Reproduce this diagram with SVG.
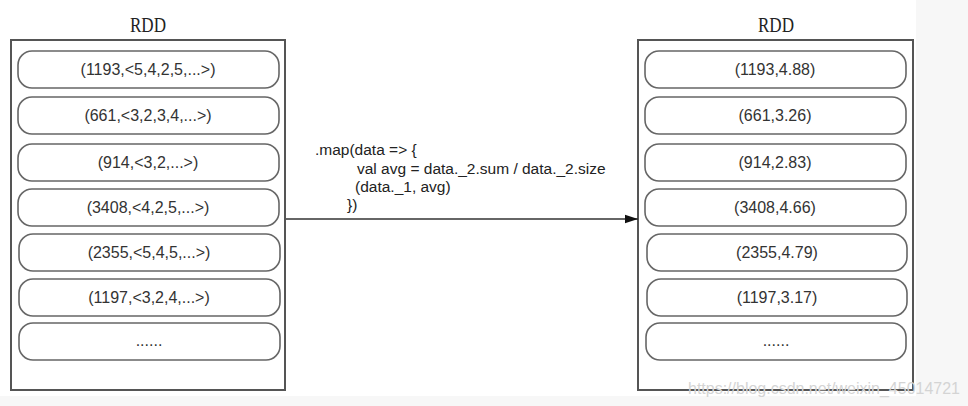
<svg xmlns="http://www.w3.org/2000/svg" width="968" height="406" viewBox="0 0 968 406">
<defs>
<style>
.box{fill:#fff;stroke:#555;stroke-width:2}
.pill{fill:#fff;stroke:#666;stroke-width:1.6}
.t{font-family:"Liberation Sans",Arial,sans-serif;font-size:16px;fill:#333;text-anchor:middle}
.title{font-family:"Liberation Serif","Times New Roman",serif;font-size:22px;fill:#222;text-anchor:middle}
.code{font-family:"Liberation Sans",Arial,sans-serif;font-size:15.5px;fill:#222}
.wm{font-family:"Liberation Sans",Arial,sans-serif;font-size:16px;fill:#d4d4d4}
</style>
<marker id="ah" markerWidth="14" markerHeight="10" refX="13" refY="5" orient="auto" markerUnits="userSpaceOnUse">
<path d="M0,0.8 L13,5 L0,9.2 Z" fill="#111"/>
</marker>
</defs>
<rect x="0" y="0" width="968" height="406" fill="#f7f7f7"/>
<rect x="0" y="0" width="916" height="396" fill="#fff"/>

<g id="left-rdd">
<text class="title" x="148" y="32" textLength="36" lengthAdjust="spacingAndGlyphs">RDD</text>
<rect class="box" x="11" y="40" width="274" height="350"/>
<g id="l1"><rect class="pill" x="18" y="51" width="261" height="37" rx="14"/><text class="t" x="148" y="75">(1193,&lt;5,4,2,5,...&gt;)</text></g>
<g id="l2"><rect class="pill" x="18" y="97" width="261" height="37" rx="14"/><text class="t" x="148" y="121">(661,&lt;3,2,3,4,...&gt;)</text></g>
<g id="l3"><rect class="pill" x="18" y="144" width="261" height="37" rx="14"/><text class="t" x="148" y="168">(914,&lt;3,2,...&gt;)</text></g>
<g id="l4"><rect class="pill" x="18" y="189" width="261" height="37" rx="14"/><text class="t" x="148" y="213">(3408,&lt;4,2,5,...&gt;)</text></g>
<g id="l5"><rect class="pill" x="19" y="234" width="261" height="37" rx="14"/><text class="t" x="149" y="258">(2355,&lt;5,4,5,...&gt;)</text></g>
<g id="l6"><rect class="pill" x="19" y="279" width="261" height="37" rx="14"/><text class="t" x="149" y="303">(1197,&lt;3,2,4,...&gt;)</text></g>
<g id="l7"><rect class="pill" x="19" y="323" width="261" height="37" rx="14"/><text class="t" x="149" y="346">......</text></g>
</g>

<g id="right-rdd">
<text class="title" x="776" y="32" textLength="36" lengthAdjust="spacingAndGlyphs">RDD</text>
<rect class="box" x="638" y="40" width="275" height="350"/>
<g id="r1"><rect class="pill" x="645" y="51" width="261" height="37" rx="14"/><text class="t" x="775" y="75">(1193,4.88)</text></g>
<g id="r2"><rect class="pill" x="645" y="97" width="261" height="37" rx="14"/><text class="t" x="775" y="121">(661,3.26)</text></g>
<g id="r3"><rect class="pill" x="645" y="144" width="261" height="37" rx="14"/><text class="t" x="775" y="168">(914,2.83)</text></g>
<g id="r4"><rect class="pill" x="645" y="189" width="261" height="37" rx="14"/><text class="t" x="775" y="213">(3408,4.66)</text></g>
<g id="r5"><rect class="pill" x="647" y="234" width="260" height="37" rx="14"/><text class="t" x="777" y="258">(2355,4.79)</text></g>
<g id="r6"><rect class="pill" x="647" y="279" width="260" height="37" rx="14"/><text class="t" x="777" y="303">(1197,3.17)</text></g>
<g id="r7"><rect class="pill" x="646" y="323" width="260" height="37" rx="14"/><text class="t" x="776" y="346">......</text></g>
</g>

<g id="connectors">
<line x1="286" y1="219" x2="638" y2="219" stroke="#333" stroke-width="1.4" marker-end="url(#ah)"/>
<g id="map-label" class="code">
<text x="315" y="155">.map(data =&gt; {</text>
<text x="357" y="174">val avg = data._2.sum / data._2.size</text>
<text x="355" y="192">(data._1, avg)</text>
<text x="347" y="210">})</text>
</g>
</g>

<text class="wm" x="688" y="394" textLength="272" lengthAdjust="spacingAndGlyphs">https://blog.csdn.net/weixin_45014721</text>
</svg>
